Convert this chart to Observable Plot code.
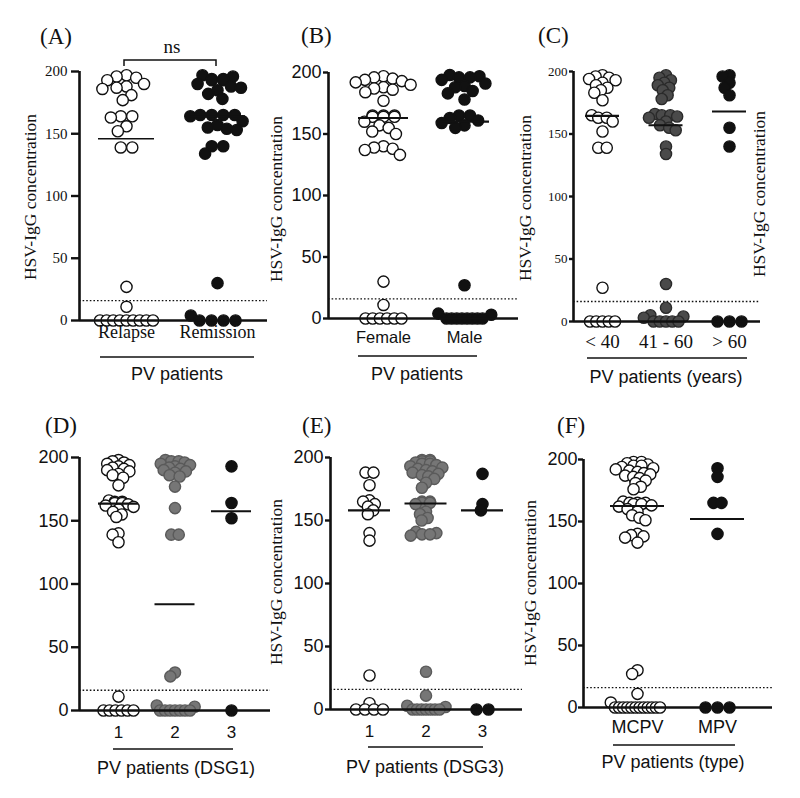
<!DOCTYPE html>
<html><head><meta charset="utf-8">
<script src="https://cdn.jsdelivr.net/npm/d3@7"></script>
<script src="https://cdn.jsdelivr.net/npm/@observablehq/plot@0.6"></script>
<style>
body{margin:0;background:#fff;}
#root{position:relative;width:800px;height:798px;overflow:hidden;background:#fff;}
#root svg{position:absolute;}
</style></head><body><div id="root"></div>
<script>
// ---------------- DATA ----------------
const threshold = 16;
const yTicks = [0, 50, 100, 150, 200];

const A_labels = ["Relapse", "Remission"];
const A_relapse = [197,196,195,193,190,188,187,186,181,177,164,164,163,156,152,139,139,27,11,0,0,0,0,0,0,0,0,0];
const A_remission = [197,196,194,194,193,193,190,188,187,185,182,178,165,165,165,165,164,160,157,155,154,153,140,140,134,30,4,0,0,0,0];
const A_lines = [146, 164];

const B_labels = ["Female", "Male"];
const B_female = [197,196,195,194,193,192,190,188,187,186,184,177,165,165,165,164,164,164,160,157,155,152,150,140,139,138,137,133,30,11,0,0,0,0,0,0];
const B_male = [198,197,196,196,194,191,189,188,185,183,178,165,165,163,161,159,157,155,27,4,3,0,0,0,0,0,0,0,0];
const B_lines = [163, 160];

const C_labels = ["< 40", "41 - 60", "> 60"];
const C_lt40 = [197,196,195,194,193,191,189,187,185,183,177,165,163,163,160,152,139,139,27,0,0,0,0,0];
const C_41to60 = [197,195,193,191,189,187,185,181,178,166,165,165,164,163,160,157,155,153,140,134,30,11,5,4,3,0,0,0,0,0];
const C_gt60 = [197,196,191,187,181,155,140,0,0,0];
const C_lines = [164.5, 157, 168];

const D_labels = ["1", "2", "3"];
const D_g1 = [198,197,196,195,194,193,192,191,190,189,187,186,184,178,166,165,165,164,164,163,162,161,159,157,155,153,140,139,133,11,0,0,0,0,0,0];
const D_g2 = [198,197,197,196,195,194,193,192,191,190,189,188,186,185,177,160,139,139,30,27,4,3,0,0,0,0,0,0,0];
const D_g3 = [193,164,152,0];
const D_lines = [163.5, 84, 157.5];

const E_labels = ["1", "2", "3"];
const E_g1 = [188,188,178,166,165,163,161,158,155,140,134,27,5,0,0,0,0];
const E_g2 = [198,198,197,197,196,195,195,194,193,192,191,190,189,188,187,186,185,183,180,176,165,165,164,164,163,157,155,152,150,141,140,139,139,138,30,11,3,2,0,0,0,0,0,0,0];
const E_g3 = [187,163,158,0,0];
const E_lines = [158, 163.5, 158];

const F_labels = ["MCPV", "MPV"];
const F_mcpv = [198,198,197,196,195,195,194,193,192,191,190,189,188,187,186,185,183,181,178,176,166,165,165,165,164,164,163,162,160,158,155,153,151,140,139,138,137,133,30,27,11,4,0,0,0,0,0,0,0,0,0,0,0,0];
const F_mpv = [193,186,165,165,140,0,0,0];
const F_lines = [162.5, 152];

// ---------------- STYLE / LAYOUT ----------------
const SERIF = "'Liberation Serif','Times New Roman',serif";
const SANS = "'Liberation Sans',Arial,sans-serif";
const INK = "#111";
const OPEN = {fill: "#fff", stroke: INK};
const BLACK = {fill: INK, stroke: INK};
const DARKGRAY = {fill: "#4a4a4a", stroke: "#2a2a2a"};
const GRAY = {fill: "#767676", stroke: "#5a5a5a"};

const panels = [
  {box:[0,0,290,400], a:79, e:267, y0:320, y200:71, centers:[126,217], labels:A_labels,
   groups:[[A_relapse,OPEN],[A_remission,BLACK]], lines:A_lines, lineW:[1.5,2.2], hw:28, d:10, maxRow:53,
   tickFont:SERIF, tickFs:15, tickSize:8, tickPad:4, catFont:SERIF, catFs:18, catPad:5},
  {box:[262,0,290,400], a:328, e:518, y0:318, y200:72, centers:[383,464], labels:B_labels,
   groups:[[B_female,OPEN],[B_male,BLACK]], lines:B_lines, lineW:[2.2,2.2], hw:25, d:9.5, maxRow:36,
   tickFont:SANS, tickFs:18, tickSize:5, tickPad:2, catFont:SANS, catFs:16.5, catPad:13},
  {box:[525,0,275,400], a:573, e:760, y0:321, y200:71, centers:[602,665,729], labels:C_labels,
   groups:[[C_lt40,OPEN],[C_41to60,DARKGRAY],[C_gt60,BLACK]], lines:C_lines, lineW:[2.2,2.2,2.2], hw:17, d:7, maxRow:25,
   tickFont:SERIF, tickFs:13, tickSize:4, tickPad:2, catFont:SERIF, catFs:19, catPad:13},
  {box:[0,400,290,398], a:79, e:270, y0:710, y200:457, centers:[118,173,231], labels:D_labels,
   groups:[[D_g1,OPEN],[D_g2,GRAY],[D_g3,BLACK]], lines:D_lines, lineW:[2.2,2.2,2.2], hw:20, d:6, maxRow:30,
   tickFont:SANS, tickFs:18, tickSize:8, tickPad:3, catFont:SANS, catFs:17, catPad:15},
  {box:[262,400,290,398], a:330, e:522, y0:709, y200:457, centers:[369,426,482], labels:E_labels,
   groups:[[E_g1,OPEN],[E_g2,GRAY],[E_g3,BLACK]], lines:E_lines, lineW:[2.2,2.2,2.2], hw:21, d:6.5, maxRow:27,
   tickFont:SANS, tickFs:18, tickSize:5, tickPad:2, catFont:SANS, catFs:17, catPad:15},
  {box:[525,400,275,398], a:583, e:772, y0:707, y200:459, centers:[637,717], labels:F_labels,
   groups:[[F_mcpv,OPEN],[F_mpv,BLACK]], lines:F_lines, lineW:[2.2,2.2], hw:27, d:6.5, maxRow:45,
   tickFont:SANS, tickFs:18, tickSize:5, tickPad:1, catFont:SANS, catFs:18, catPad:13}
];

// scatter layout in pixel space, computed from the values:
// tied values form an evenly spaced row, the rest are placed as a beeswarm
function layout(values, pxY, d, maxRow) {
  const pts = values.map(v => ({v, py: pxY(v), px: null}));
  const placed = [];
  for (const [v, arr] of d3.group(pts, p => p.v)) {
    if (arr.length >= 2) {
      const s = Math.min(v === 0 ? 12 : d + 1.5, maxRow / (arr.length - 1));
      arr.forEach((p, j) => { p.px = (j - (arr.length - 1) / 2) * s; placed.push(p); });
    }
  }
  const rest = pts.filter(p => p.px === null).sort((p, q) => p.py - q.py);
  for (const p of rest) {
    const iv = [];
    for (const q of placed) {
      const dy = Math.abs(q.py - p.py);
      if (dy < d) { const h = Math.sqrt(d * d - dy * dy); iv.push([q.px - h, q.px + h]); }
    }
    let c = [0];
    for (const [l, r] of iv) c.push(l, r);
    c = c.filter(x => iv.every(([l, r]) => x <= l + 1e-6 || x >= r - 1e-6));
    c.sort((m, n) => Math.abs(m) - Math.abs(n) || m - n);
    p.px = c[0];
    placed.push(p);
  }
  return pts;
}

const root = document.getElementById("root");

for (const P of panels) {
  const n = P.centers.length;
  const k = (P.centers[n - 1] - P.centers[0]) / (n - 1);
  const lo = 1 - (P.centers[0] - P.a) / k;
  const hi = lo + (P.e - P.a) / k;
  const pxY = v => P.y0 - v * (P.y0 - P.y200) / 200;
  const dotMarks = P.groups.map(([vals, st], gi) => {
    const pts = layout(vals, pxY, P.d, P.maxRow).map(p => ({x: gi + 1 + p.px / k, y: p.v}));
    return Plot.dot(pts, {x: "x", y: "y", r: 5.6, fill: st.fill, stroke: st.stroke, strokeWidth: 1.4});
  });
  const means = P.lines.map((v, i) => ({i: i + 1, v, w: P.lineW[i]}));
  const hwU = P.hw / k;
  const [bx, by, bw, bh] = P.box;
  const svg = Plot.plot({
    width: bw, height: bh,
    marginLeft: P.a - bx, marginRight: bx + bw - P.e,
    marginTop: P.y200 - by, marginBottom: by + bh - P.y0,
    x: {domain: [lo, hi]},
    y: {domain: [0, 200]},
    style: {background: "none", overflow: "visible", color: INK, fontFamily: P.tickFont},
    marks: [
      Plot.ruleY([threshold], {stroke: INK, strokeWidth: 1.3, strokeDasharray: "1.6,2"}),
      ...dotMarks,
      Plot.ruleY(means, {y: "v", x1: d => d.i - hwU, x2: d => d.i + hwU, stroke: INK, strokeWidth: d => d.w}),
      Plot.ruleY([0], {stroke: INK, strokeWidth: 2.6}),
      Plot.ruleX([lo], {stroke: INK, strokeWidth: 2.6}),
      Plot.axisY({ticks: yTicks, tickSize: P.tickSize, tickPadding: P.tickPad, strokeWidth: 2.4,
        fontSize: P.tickFs, fontFamily: P.tickFont, label: null}),
      Plot.axisX({ticks: d3.range(1, n + 1), tickFormat: i => P.labels[i - 1], tickSize: 0,
        tickPadding: P.catPad, fontSize: P.catFs, fontFamily: P.catFont, label: null})
    ]
  });
  svg.style.left = bx + "px";
  svg.style.top = by + "px";
  root.appendChild(svg);
}

// ---------------- annotations ----------------
const ann = d3.select(root).append("svg")
  .attr("width", 800).attr("height", 798)
  .style("left", "0px").style("top", "0px").style("pointer-events", "none");

const letters = [["(A)",40,44],["(B)",301,43],["(C)",538,43],["(D)",45,433],["(E)",302,433],["(F)",557,433]];
ann.selectAll("text.letter").data(letters).join("text")
  .attr("x", d => d[1]).attr("y", d => d[2]).text(d => d[0])
  .attr("font-family", SERIF).attr("font-size", 23).attr("fill", INK);

const ylabs = [[30,197],[276,199],[525,198],[759,194],[276,582],[530,583]];
ann.selectAll("text.ylab").data(ylabs).join("text")
  .attr("transform", d => `translate(${d[0]},${d[1]}) rotate(-90)`)
  .attr("text-anchor", "middle").attr("dy", "0.32em")
  .attr("font-family", SERIF).attr("font-size", 17.5).attr("fill", INK)
  .text("HSV-IgG concentration");

const titles = [["PV patients",177,380],["PV patients",417,380],["PV patients (years)",666,383],
  ["PV patients (DSG1)",176,774],["PV patients (DSG3)",425,773],["PV patients (type)",673,768]];
ann.selectAll("text.title").data(titles).join("text")
  .attr("x", d => d[1]).attr("y", d => d[2]).attr("text-anchor", "middle").text(d => d[0])
  .attr("font-family", SANS).attr("font-size", 18).attr("fill", INK);

const unders = [[100,254,357],[358,477,356],[587,747,358],[113,233,749],[368,483,747],[613,735,745]];
ann.selectAll("line.under").data(unders).join("line")
  .attr("x1", d => d[0]).attr("x2", d => d[1]).attr("y1", d => d[2]).attr("y2", d => d[2])
  .attr("stroke", INK).attr("stroke-width", 1.4);

ann.append("path").attr("d", "M124,66V60H216V66").attr("fill", "none").attr("stroke", INK).attr("stroke-width", 1.5);
ann.append("text").attr("x", 172).attr("y", 53).attr("text-anchor", "middle")
  .attr("font-family", SERIF).attr("font-size", 19).attr("fill", INK).text("ns");
</script>
</body></html>
